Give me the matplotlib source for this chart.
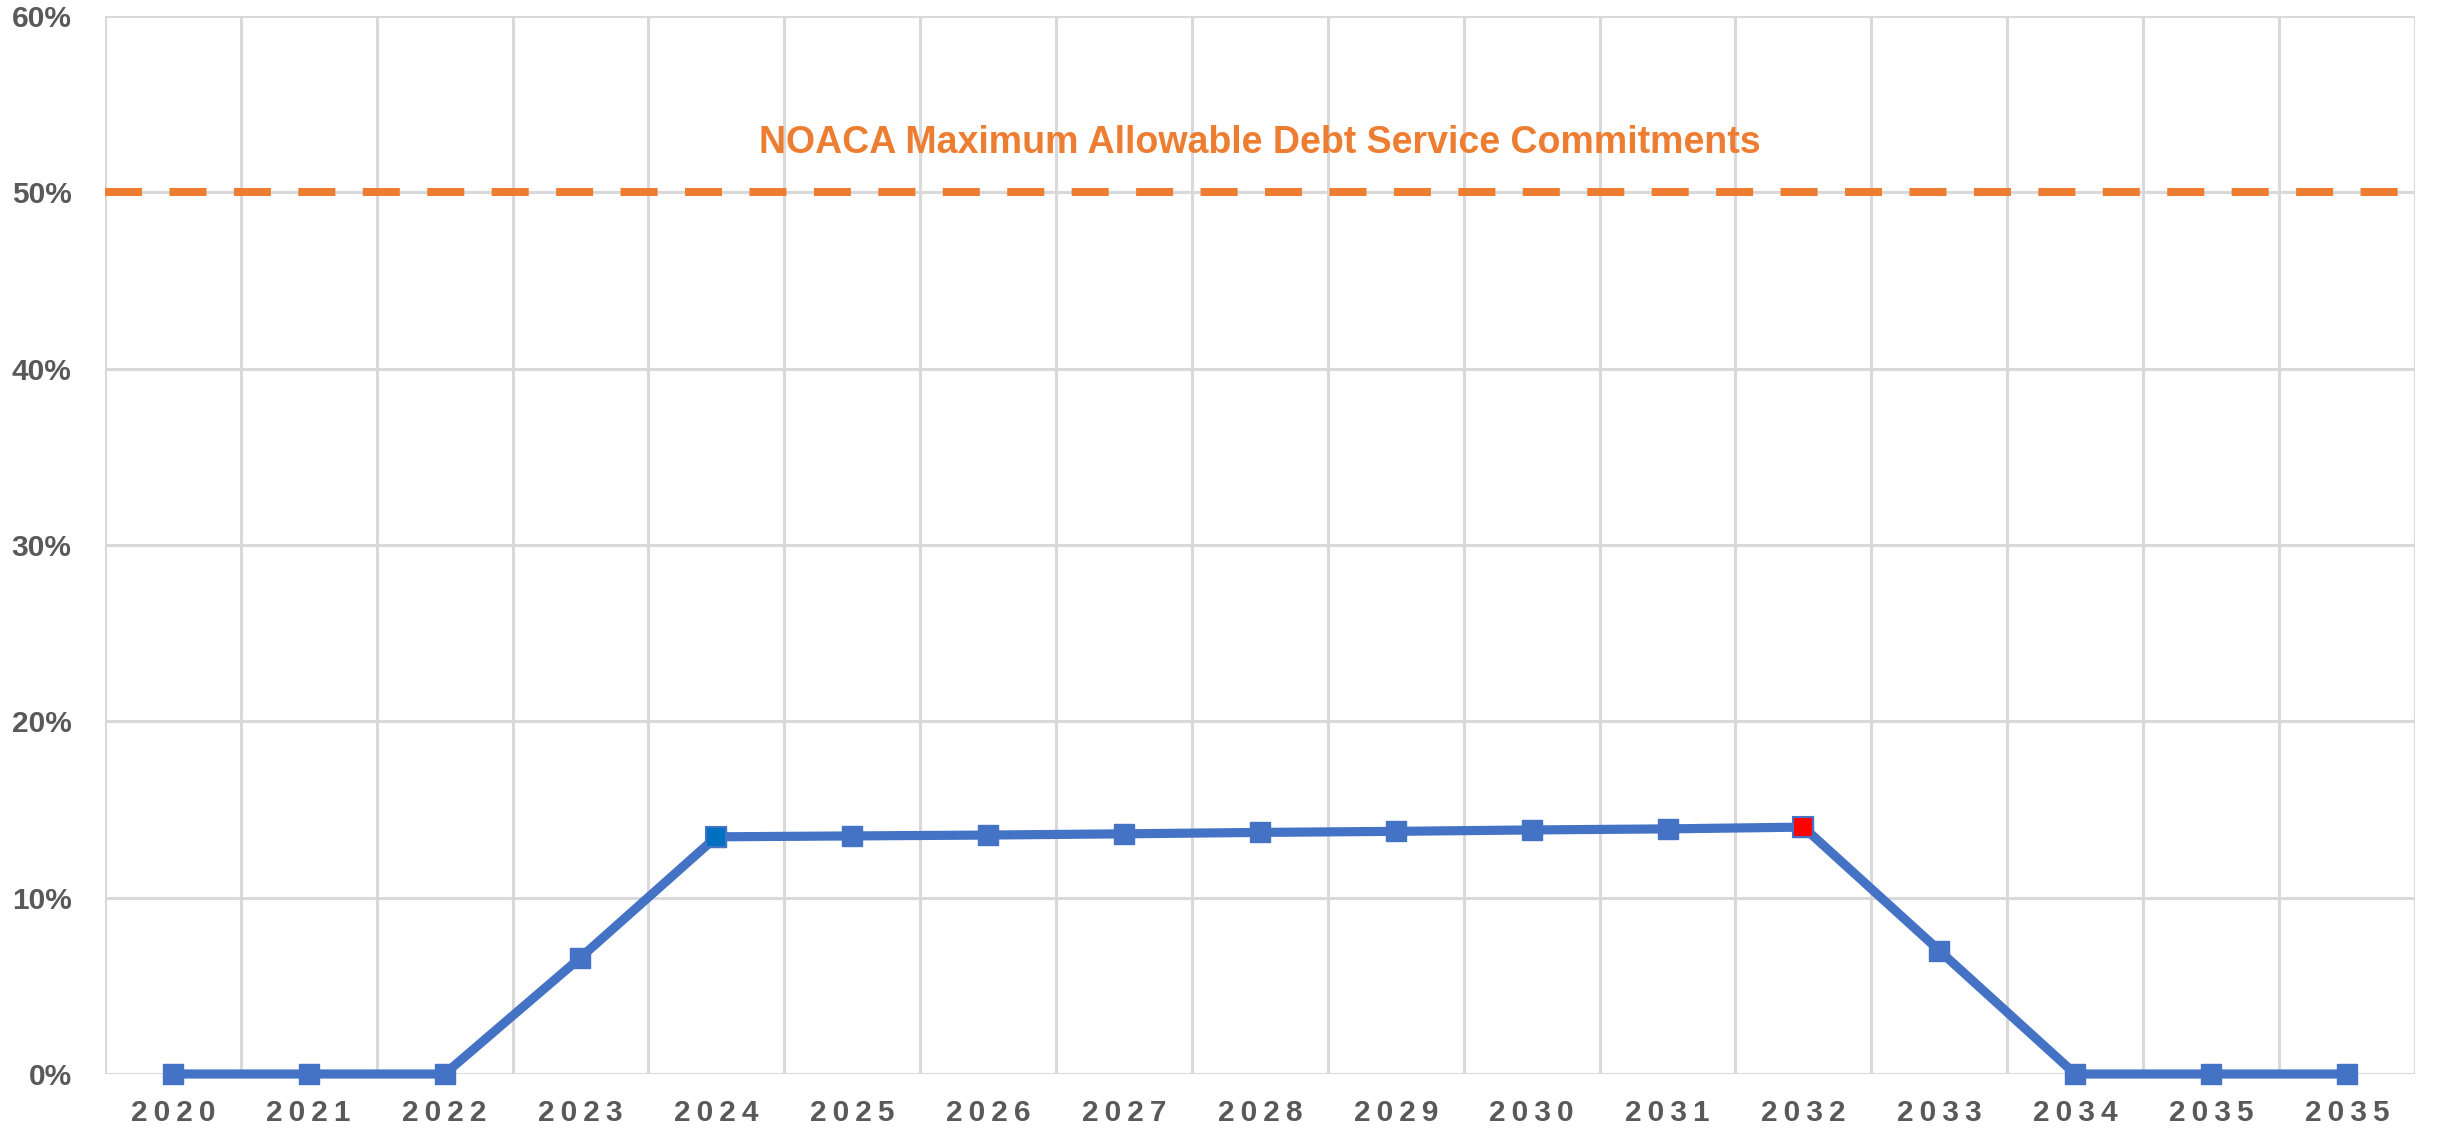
"""Debt service commitments vs NOACA maximum allowable (50%)."""

import matplotlib
matplotlib.use("Agg")
import matplotlib.pyplot as plt
from matplotlib.ticker import FixedLocator, PercentFormatter

# Data
years = ["2020", "2021", "2022", "2023", "2024", "2025", "2026", "2027",
         "2028", "2029", "2030", "2031", "2032", "2033", "2034", "2035", "2035"]
debt_share = [0.0, 0.0, 0.0, 6.6, 13.45, 13.5, 13.55, 13.62, 13.7,
              13.76, 13.84, 13.9, 14.0, 7.0, 0.0, 0.0, 0.0]
max_allowable = 50.0
max_label = "NOACA Maximum Allowable Debt Service Commitments"

BLUE = "#4472C4"
ORANGE = "#ED7D31"
GRID = "#D9D9D9"
TICK = "#595959"

plt.rcParams["font.family"] = ["Liberation Sans", "DejaVu Sans"]

fig = plt.figure(figsize=(24.4, 11.31), dpi=100)
ax = fig.add_axes([0.043, 0.0504, 0.9467, 0.9355])

x = list(range(len(years)))

# limit line
ax.axhline(max_allowable, color=ORANGE, lw=5.8, dashes=(4.6, 3.4),
           zorder=3)
ax.text(8.0, 52.8, max_label, ha="center", va="center", fontsize=27,
        fontweight="bold", color=ORANGE)

# main series
ax.plot(x, debt_share, color=BLUE, lw=6.6, marker="s", ms=14.5,
        mfc=BLUE, mec=BLUE, clip_on=False, zorder=4)
# highlighted points
ax.plot(x[4], debt_share[4], marker="s", ms=14.5, mfc="#0070C0", mec=BLUE,
        mew=1.5, ls="none", zorder=5)
ax.plot(x[12], debt_share[12], marker="s", ms=14.5, mfc="#FF0000", mec=BLUE,
        mew=1.5, ls="none", zorder=5)

ax.set_xlim(-0.5, len(years) - 0.5)
ax.set_ylim(0, 60)
ax.yaxis.set_major_locator(FixedLocator([0, 10, 20, 30, 40, 50, 60]))
ax.yaxis.set_major_formatter(PercentFormatter(decimals=0))
ax.set_xticks(x)
ax.set_xticklabels(["\u2009".join(y) for y in years])
ax.xaxis.set_minor_locator(FixedLocator([i - 0.5 for i in range(len(years) + 1)]))

ax.grid(axis="y", which="major", color=GRID, lw=2.2, zorder=0)
ax.grid(axis="x", which="minor", color=GRID, lw=2.2, zorder=0)
ax.set_axisbelow(True)
for s in ax.spines.values():
    s.set_visible(False)

ax.tick_params(axis="both", which="both", length=0)
ax.tick_params(axis="y", labelsize=21.5, labelcolor=TICK, pad=24)
ax.tick_params(axis="x", labelsize=21.5, labelcolor=TICK, pad=18)
for lbl in ax.get_xticklabels() + ax.get_yticklabels():
    lbl.set_fontweight("bold")

fig.savefig("out.png", dpi=100, facecolor="white")
